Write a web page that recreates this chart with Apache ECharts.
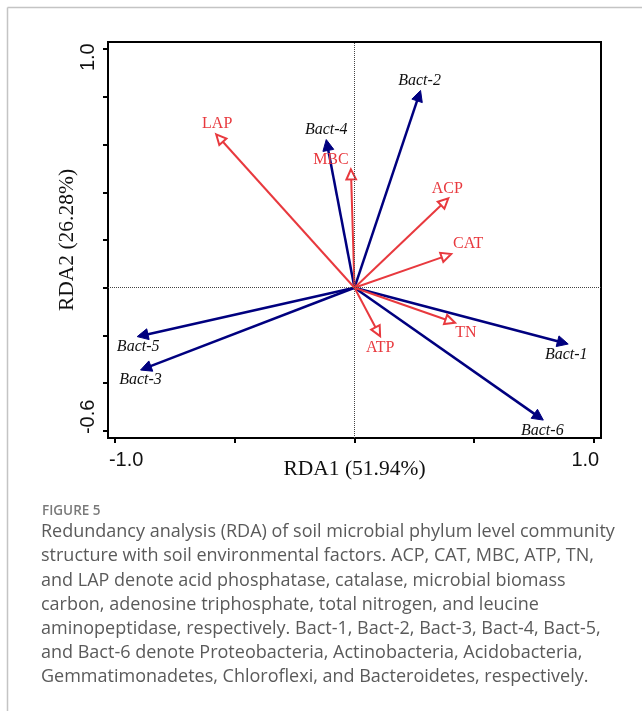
<!DOCTYPE html>
<html>
<head>
<meta charset="utf-8">
<script src="https://cdn.jsdelivr.net/npm/echarts@6/dist/echarts.min.js"></script>
<style>
html,body{margin:0;padding:0;background:#fff;}
#chart{width:642px;height:711px;}
</style>
</head>
<body>
<div id="chart"></div>
<script>
// ---- data ----
const bactNames = ['Bact-1', 'Bact-2', 'Bact-3', 'Bact-4', 'Bact-5', 'Bact-6'];
const bactRDA1 = [0.893, 0.276, -0.894, -0.118, -0.908, 0.789];
const bactRDA2 = [-0.236, 0.827, -0.345, 0.621, -0.205, -0.555];

const envNames = ['ACP', 'CAT', 'MBC', 'ATP', 'TN', 'LAP'];
const envRDA1 = [0.392, 0.404, -0.015, 0.107, 0.420, -0.578];
const envRDA2 = [0.375, 0.141, 0.496, -0.203, -0.147, 0.643];

const xTicks = [-1.0, -0.5, 0, 0.5, 1.0];
const xTickLabels = [-1.0, 1.0];
const yTicks = [-0.6, -0.4, -0.2, 0, 0.2, 0.4, 0.6, 0.8, 1.0];
const yTickLabels = [-0.6, 1.0];

const xTitle = 'RDA1 (51.94%)';
const yTitle = 'RDA2 (26.28%)';
const figLabel = 'FIGURE 5';
const captionLines = [
  'Redundancy analysis (RDA) of soil microbial phylum level community',
  'structure with soil environmental factors. ACP, CAT, MBC, ATP, TN,',
  'and LAP denote acid phosphatase, catalase, microbial biomass',
  'carbon, adenosine triphosphate, total nitrogen, and leucine',
  'aminopeptidase, respectively. Bact-1, Bact-2, Bact-3, Bact-4, Bact-5,',
  'and Bact-6 denote Proteobacteria, Actinobacteria, Acidobacteria,',
  'Gemmatimonadetes, Chloroflexi, and Bacteroidetes, respectively.'
];

// ---- styles ----
const BLUE = '#00007f';
const RED = '#e8393e';
const labelOffsets = {
  'Bact-1': [-2, 11], 'Bact-2': [-1, -10], 'Bact-3': [0, 10], 'Bact-4': [0, -10],
  'Bact-5': [1, 10], 'Bact-6': [-1, 11],
  'ACP': [-1, -9], 'CAT': [17, -10.5], 'MBC': [-20, -10], 'ATP': [0, 12],
  'TN': [11, 10.5], 'LAP': [1, -11]
};

function arrowRenderer(names, color, filled, lineWidth, font, textColor) {
  return function (params, api) {
    const x = api.value(0), y = api.value(1);
    const o = api.coord([0, 0]);
    const t = api.coord([x, y]);
    const dx = t[0] - o[0], dy = t[1] - o[1];
    const len = Math.hypot(dx, dy);
    const ux = dx / len, uy = dy / len;
    const L = filled ? 11 : 10, W = filled ? 5.5 : 4.8;
    const b = [t[0] - ux * L, t[1] - uy * L];
    const px = -uy, py = ux;
    const name = names[params.dataIndex];
    const off = labelOffsets[name] || [0, 0];
    return {
      type: 'group',
      children: [
        {
          type: 'line',
          shape: { x1: o[0], y1: o[1], x2: b[0] + ux * (filled ? 1 : 0), y2: b[1] + uy * (filled ? 1 : 0) },
          style: { stroke: color, lineWidth: lineWidth }
        },
        {
          type: 'polygon',
          shape: { points: [[t[0], t[1]], [b[0] + px * W, b[1] + py * W], [b[0] - px * W, b[1] - py * W]] },
          style: { fill: filled ? color : '#fff', stroke: color, lineWidth: filled ? 1 : 2, lineJoin: 'miter' }
        },
        {
          type: 'text',
          style: {
            text: name, x: t[0] + off[0], y: t[1] + off[1],
            align: 'center', verticalAlign: 'middle',
            font: font, fill: textColor
          }
        }
      ]
    };
  };
}

const chart = echarts.init(document.getElementById('chart'), null, { renderer: 'canvas' });

const tickFont = { fontFamily: 'Liberation Sans', fontSize: 20, color: '#111' };

const option = {
  backgroundColor: '#fff',
  animation: false,
  grid: { left: 108, right: 41, top: 42, bottom: 273, show: true, borderColor: '#000', borderWidth: 2, backgroundColor: 'transparent' },
  xAxis: {
    type: 'value', min: -1.03, max: 1.03,
    splitLine: { show: false },
    axisLine: { show: true, onZero: false, lineStyle: { color: '#000', width: 2 } },
    axisTick: { show: true, inside: false, length: 5, customValues: xTicks, lineStyle: { color: '#000', width: 2 } },
    axisLabel: {
      show: true, customValues: xTickLabels, margin: 12,
      formatter: function (v) { return v < 0 ? '{l|' + v.toFixed(1) + '}' : '{r|' + v.toFixed(1) + '}'; },
      rich: {
        l: Object.assign({ padding: [0, 0, 0, 22] }, tickFont),
        r: Object.assign({ padding: [0, 17, 0, 0] }, tickFont)
      }
    },
    name: xTitle, nameLocation: 'middle', nameGap: 20, nameMoveOverlap: false,
    nameTextStyle: { fontFamily: 'Liberation Serif', fontSize: 21.5, color: '#111' }
  },
  yAxis: {
    type: 'value', min: -0.63, max: 1.03,
    splitLine: { show: false },
    axisLine: { show: true, onZero: false, lineStyle: { color: '#000', width: 2 } },
    axisTick: { show: true, inside: false, length: 5, customValues: yTicks, lineStyle: { color: '#000', width: 2 } },
    axisLabel: {
      show: true, customValues: yTickLabels, rotate: 90, margin: 10,
      formatter: function (v) { return v < 0 ? '{l|' + v.toFixed(1) + '}' : '{r|' + v.toFixed(1) + '}'; },
      rich: {
        l: Object.assign({ padding: [0, 0, 0, 28] }, tickFont),
        r: Object.assign({ padding: [0, 16, 0, 0] }, tickFont)
      }
    },
    name: yTitle, nameLocation: 'middle', nameGap: 30, nameRotate: 90, nameMoveOverlap: false,
    nameTextStyle: { fontFamily: 'Liberation Serif', fontSize: 21.5, color: '#111' }
  },
  series: [
    {
      type: 'line', data: [], silent: true,
      markLine: {
        silent: true, symbol: 'none', animation: false,
        label: { show: false },
        lineStyle: { color: '#444', width: 1, type: [1, 1] },
        data: [{ xAxis: 0 }, { yAxis: 0 }]
      }
    },
    {
      type: 'custom', name: 'Bacteria',
      renderItem: arrowRenderer(bactNames, BLUE, true, 2.5, 'italic 16px "Liberation Serif"', '#111'),
      data: bactRDA1.map(function (v, i) { return [v, bactRDA2[i]]; }),
      z: 3
    },
    {
      type: 'custom', name: 'Environment',
      renderItem: arrowRenderer(envNames, RED, false, 2, '16px "Liberation Serif"', RED),
      data: envRDA1.map(function (v, i) { return [v, envRDA2[i]]; }),
      z: 4
    }
  ],
  graphic: [
    { type: 'line', shape: { x1: 7.5, y1: 7.5, x2: 642, y2: 7.5 }, style: { stroke: '#c4c4c4', lineWidth: 1.5 } },
    { type: 'line', shape: { x1: 7.5, y1: 7.5, x2: 7.5, y2: 711 }, style: { stroke: '#c4c4c4', lineWidth: 1.5 } },
    { type: 'text', left: 42, top: 504, style: { text: figLabel, font: '600 13.5px "Open Sans"', fill: '#7a7a7a' } },
    {
      type: 'text', left: 41, top: 520,
      style: { text: captionLines.join('\n'), font: '18px "Open Sans"', lineHeight: 24.2, fill: '#5a5a5a' }
    }
  ]
};
chart.setOption(option);
</script>
</body>
</html>
